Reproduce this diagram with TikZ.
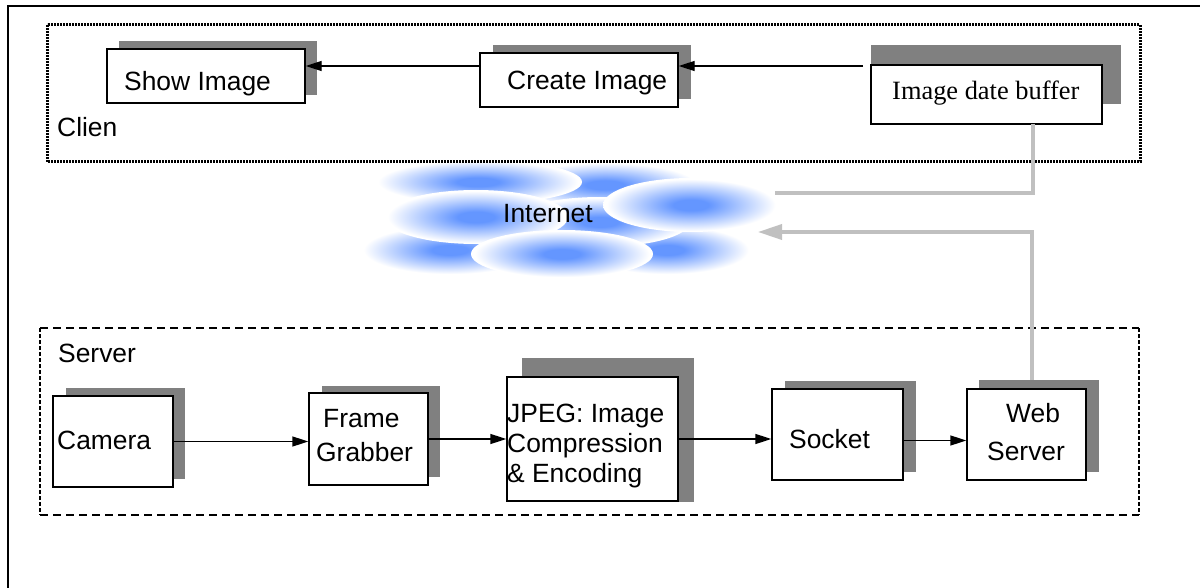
\documentclass[tikz,border=0pt]{standalone}
\usepackage{fontspec}
\setmainfont{Liberation Sans}
\newfontfamily\serifbuf{Liberation Serif}
\usetikzlibrary{arrows.meta}
\definecolor{shadowgray}{RGB}{128,128,128}
\definecolor{linkgray}{RGB}{192,192,192}
\definecolor{cloudblue}{RGB}{100,150,255}
\pgfdeclareradialshading{cloudshade}{\pgfpoint{0bp}{0bp}}{color(0bp)=(cloudblue); color(5bp)=(cloudblue); color(24bp)=(white); color(50bp)=(white)}
\tikzset{
  boxnode/.style={draw, line width=1.4pt, fill=white, inner sep=0pt},
  shadowbox/.style={fill=shadowgray},
  lbl/.style={inner sep=0pt, anchor=base west, font=\fontsize{26.4}{30}\selectfont},
  arr/.style={line width=1.4pt, -{Triangle[length=16pt,width=10pt]}},
  grayline/.style={draw=linkgray, line width=3.5pt},
  grayarr/.style={grayline, -{Triangle[length=24pt,width=15pt]}},
  cloudpart/.style={shading=cloudshade}
}
\begin{document}
\begin{tikzpicture}[x=1pt,y=-1pt]
\useasboundingbox (0,0) rectangle (1200,588);
\fill[white] (0,0) rectangle (1200,588);

% cloud
\shade[cloudpart] (605,185) ellipse [x radius=95pt, y radius=23pt];
\shade[cloudpart] (450,250) ellipse [x radius=90pt, y radius=25pt];
\shade[cloudpart] (667,250) ellipse [x radius=85pt, y radius=25pt];
\shade[cloudpart] (600,222) ellipse [x radius=90pt, y radius=25pt];
\shade[cloudpart] (478,182) ellipse [x radius=104pt, y radius=22pt];
\shade[cloudpart] (476,217) ellipse [x radius=92pt, y radius=27pt];
\shade[cloudpart] (691,205) ellipse [x radius=88pt, y radius=27pt];
\shade[cloudpart] (562,254) ellipse [x radius=91pt, y radius=24pt];
\node[lbl] (internet) at (503,223) {Internet};

% outer frame (top and left visible)
\draw[line width=2pt] (8,588) -- (8,6) -- (1200,6);

% client group
\draw[line width=3pt, dash pattern=on 2pt off 1pt] (47,25) rectangle (1140,162);
\node[lbl] (clientlbl) at (57,137) {Clien};

% server group
\draw[line width=1.1pt, dash pattern=on 8pt off 5pt] (40,328) -- (1139,328);
\draw[line width=1.1pt, dash pattern=on 8pt off 5pt] (40,515) -- (1139,515);
\draw[line width=1.3pt, dash pattern=on 4pt off 2pt] (40,328) -- (40,515);
\draw[line width=1.3pt, dash pattern=on 4pt off 2pt] (1139,328) -- (1139,515);
\node[lbl] (serverlbl) at (58,362) {Server};

% shadows
\fill[shadowgray] (119,41) rectangle (317,95);
\fill[shadowgray] (493,45) rectangle (691,99);
\fill[shadowgray] (871,45) rectangle (1121,104);
\fill[shadowgray] (66,388) rectangle (185,479);
\fill[shadowgray] (322,386) rectangle (440,477);
\fill[shadowgray] (522,358) rectangle (694,502);
\fill[shadowgray] (785,381) rectangle (916,472);
\fill[shadowgray] (979,380) rectangle (1099,472);

% boxes
\node[boxnode, minimum width=198pt, minimum height=54pt] (show) at (206,76) {};
\node[boxnode, minimum width=198pt, minimum height=54pt] (create) at (579,80) {};
\node[boxnode, minimum width=231pt, minimum height=59pt] (buffer) at (986.5,94.5) {};
\node[boxnode, minimum width=120pt, minimum height=91pt] (camera) at (113,441.5) {};
\node[boxnode, minimum width=119pt, minimum height=92pt] (fg) at (368.5,439) {};
\node[boxnode, minimum width=171pt, minimum height=124pt] (jpeg) at (592.5,439) {};
\node[boxnode, minimum width=131pt, minimum height=91pt] (socket) at (837.5,434.5) {};
\node[boxnode, minimum width=119pt, minimum height=91pt] (web) at (1026.5,434.5) {};

% box texts
\node[lbl] (showtxt) at (124,91) {Show Image};
\node[lbl] (createtxt) at (507,90) {Create Image};
\node[lbl, font=\serifbuf\fontsize{26.4}{30}\selectfont] (buftxt) at (892,100) {Image date buffer};
\node[lbl] (camtxt) at (57,449) {Camera};
\node[lbl] (fgtxta) at (323,427) {Frame};
\node[lbl] (fgtxtb) at (316,461) {Grabber};
\node[lbl] (jpegtxta) at (507,422) {JPEG: Image};
\node[lbl] (jpegtxtb) at (507,452) {Compression};
\node[lbl] (jpegtxtc) at (507,482) {\& Encoding};
\node[lbl] (socktxt) at (789,448) {Socket};
\node[lbl] (webtxta) at (1006,422) {Web};
\node[lbl] (webtxtb) at (987,460) {Server};

% connectors
\coordinate (bufA) at (863,66);
\draw[arr] (bufA) -- ([yshift=14pt]create.east);
\draw[arr] ([yshift=14pt]create.west) -- ([yshift=10pt]show.east);
\draw[arr] (camera.east) -- (camera.east -| fg.west);
\draw[arr] (fg.east) -- (fg.east -| jpeg.west);
\draw[arr] (jpeg.east) -- (jpeg.east -| socket.west);
\draw[arr] ([yshift=-6pt]socket.east) -- ([yshift=-6pt]socket.east -| web.west);

% gray links
\coordinate (g1) at (1033,124);
\coordinate (g2) at (775,193);
\coordinate (g3) at (1032,380);
\coordinate (g4) at (758,232);
\draw[grayline] (g1) |- (g2);
\draw[grayarr] (g3) |- (g4);
\end{tikzpicture}
\end{document}
